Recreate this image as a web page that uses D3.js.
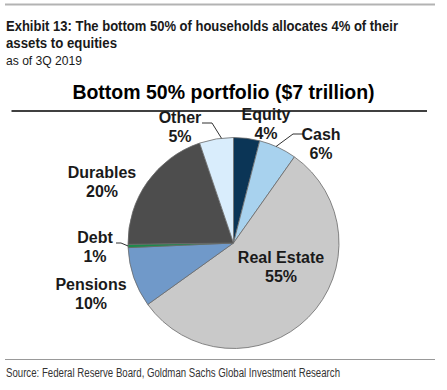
<!DOCTYPE html>
<html>
<head>
<meta charset="utf-8">
<script src="https://cdn.jsdelivr.net/npm/d3@7/dist/d3.min.js"></script>
<style>
html,body{margin:0;padding:0;background:#fff;}
svg{display:block;}
</style>
</head>
<body>
<svg id="chart" width="447" height="390"></svg>
<script>
// ---- data ----
const categories = ["Equity", "Cash", "Real Estate", "Pensions", "Debt", "Durables", "Other"];
const values = [4.0, 5.8, 55.3, 9.2, 0.5, 20.0, 5.2];
const valueLabels = ["4%", "6%", "55%", "10%", "1%", "20%", "5%"];
const colors = ["#0b3556", "#a8d2ee", "#c9c9c9", "#7099c9", "#1c8a4a", "#4d4d4d", "#d9edfc"];

const headerLines = ["Exhibit 13: The bottom 50% of households allocates 4% of their", "assets to equities"];
const subtitle = "as of 3Q 2019";
const chartTitle = "Bottom 50% portfolio ($7 trillion)";
const source = "Source: Federal Reserve Board, Goldman Sachs Global Investment Research";

// ---- layout ----
const svg = d3.select("#chart");
const cx = 233.5, cy = 243, R = 105.5;
const sans = "'Liberation Sans', Arial, Helvetica, sans-serif";

// condensed text helper: fit text to a measured width
function fitText(sel, width) {
  sel.attr("textLength", width).attr("lengthAdjust", "spacingAndGlyphs");
  return sel;
}

// top rule
svg.append("line").attr("x1", 5).attr("x2", 435).attr("y1", 4.5).attr("y2", 4.5)
  .attr("stroke", "#b3b3b3").attr("stroke-width", 2);

// header
const hdrWidths = [392, 111];
svg.selectAll("text.hdr").data(headerLines).join("text").attr("class", "hdr")
  .attr("x", 6).attr("y", (d, i) => 30.5 + i * 17.5)
  .attr("font-family", sans).attr("font-weight", "bold").attr("font-size", 14.5)
  .attr("fill", "#1a1a1a").text(d => d)
  .each(function(d, i) { fitText(d3.select(this), hdrWidths[i]); });
fitText(svg.append("text").attr("x", 6).attr("y", 64.5)
  .attr("font-family", sans).attr("font-size", 13.5).attr("fill", "#1a1a1a").text(subtitle), 76);

// chart title + underline
svg.append("text").attr("x", 223.5).attr("y", 99).attr("text-anchor", "middle")
  .attr("font-family", sans).attr("font-weight", "bold").attr("font-size", 19.5)
  .attr("fill", "#000").text(chartTitle);
svg.append("line").attr("x1", 11.5).attr("x2", 427).attr("y1", 111).attr("y2", 111)
  .attr("stroke", "#000").attr("stroke-width", 1.3);

// pie
const pie = d3.pie().sort(null).value(d => d.v);
const arcs = pie(categories.map((c, i) => ({c, v: values[i], lab: valueLabels[i], col: colors[i]})));
const arc = d3.arc().innerRadius(0).outerRadius(R);
const g = svg.append("g").attr("transform", `translate(${cx},${cy})`);
g.selectAll("path").data(arcs).join("path")
  .attr("d", arc).attr("fill", d => d.data.col)
  .attr("stroke", "#6a6a6a").attr("stroke-width", 0.8).attr("stroke-linejoin", "round");

// labels
const labelPos = {
  "Equity": [266, 120],
  "Cash": [321, 140],
  "Real Estate": [281, 263],
  "Pensions": [91, 290],
  "Debt": [95, 243],
  "Durables": [102, 178],
  "Other": [180, 123]
};
const lab = svg.append("g").attr("font-family", sans).attr("font-weight", "bold")
  .attr("font-size", 16).attr("fill", "#1a1a1a").attr("text-anchor", "middle");
arcs.forEach(d => {
  const p = labelPos[d.data.c];
  const t = lab.append("text").attr("x", p[0]).attr("y", p[1]);
  t.append("tspan").attr("x", p[0]).text(d.data.c);
  t.append("tspan").attr("x", p[0]).attr("dy", 19).text(d.data.lab);
});

// leader lines
function rimPoint(d, frac) {
  const a = d.startAngle + (d.endAngle - d.startAngle) * frac;
  return [cx + R * Math.sin(a), cy - R * Math.cos(a)];
}
const byName = Object.fromEntries(arcs.map(d => [d.data.c, d]));
const leaders = [
  [[202, 123], [212, 123], rimPoint(byName["Other"], 0.65)],
  [[303, 134], [293, 134], rimPoint(byName["Cash"], 0.45)],
  [[116, 243], [121, 243], rimPoint(byName["Debt"], 0.5)]
];
svg.append("g").selectAll("path").data(leaders).join("path")
  .attr("d", d => d3.line()(d)).attr("fill", "none")
  .attr("stroke", "#1a1a1a").attr("stroke-width", 0.9);

// bottom rule + source
svg.append("line").attr("x1", 5).attr("x2", 435).attr("y1", 359.5).attr("y2", 359.5)
  .attr("stroke", "#999").attr("stroke-width", 1);
fitText(svg.append("text").attr("x", 6).attr("y", 377)
  .attr("font-family", sans).attr("font-size", 12.5).attr("fill", "#333").text(source), 334);
</script>
</body>
</html>
